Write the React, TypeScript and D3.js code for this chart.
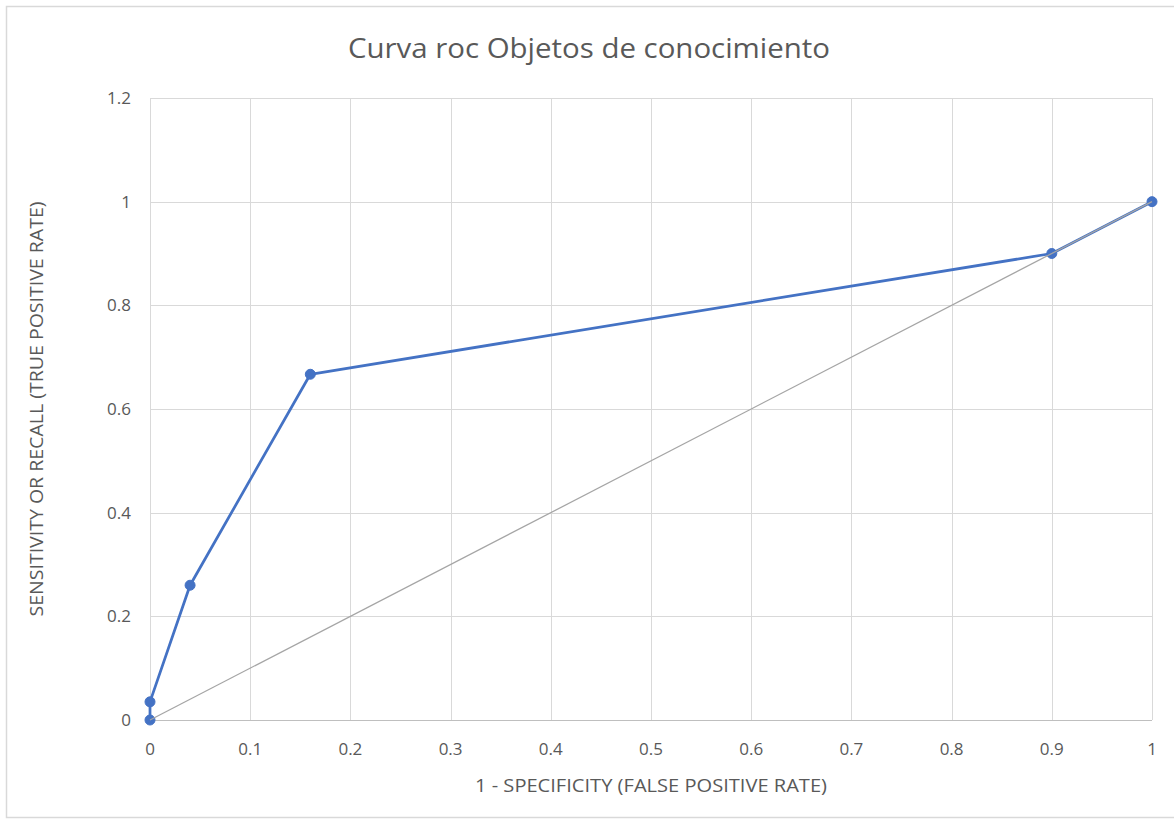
import React from "react";
import * as d3 from "d3";

// ROC curve points: false positive rate vs. true positive rate
const fprValues = [0, 0, 0.04, 0.16, 0.9, 1];
const tprValues = [0, 0.035, 0.26, 0.667, 0.9, 1];
// Reference diagonal (random classifier)
const diagX = [0, 1];
const diagY = [0, 1];

const xTicks = [0, 0.1, 0.2, 0.3, 0.4, 0.5, 0.6, 0.7, 0.8, 0.9, 1];
const yTicks = [0, 0.2, 0.4, 0.6, 0.8, 1, 1.2];

const title = "Curva roc Objetos de conocimiento";
const xTitle = "1 - SPECIFICITY (FALSE POSITIVE RATE)";
const yTitle = "SENSITIVITY OR RECALL (TRUE POSITIVE RATE)";

const W = 1174;
const H = 824;
const plot = { left: 150, right: 1152, top: 98, bottom: 720 };
const FONT = "'Open Sans', 'DejaVu Sans', sans-serif";
const TEXT = "#595959";
const GRID = "#d9d9d9";
const BLUE = "#4472c4";

export default function App() {
  const x = d3.scaleLinear().domain([0, 1]).range([plot.left, plot.right]);
  const y = d3.scaleLinear().domain([0, 1.2]).range([plot.bottom, plot.top]);

  const pts: [number, number][] = fprValues.map((v, i) => [v, tprValues[i]]);
  const diag: [number, number][] = diagX.map((v, i) => [v, diagY[i]]);
  const line = d3
    .line<[number, number]>()
    .x((d) => x(d[0]))
    .y((d) => y(d[1]));

  const fmt = (v: number) => d3.format("~g")(v);

  return (
    <svg
      width={W}
      height={H}
      style={{ position: "absolute", left: 0, top: 0, background: "#fff" }}
      fontFamily={FONT}
    >
      <rect x={6.5} y={6.5} width={W + 10} height={811} fill="#fff" stroke={GRID} strokeWidth={1.5} />

      {/* gridlines */}
      {yTicks.map((t) => (
        <line
          key={"gy" + t}
          x1={plot.left}
          x2={plot.right}
          y1={Math.round(y(t)) + 0.5}
          y2={Math.round(y(t)) + 0.5}
          stroke={t === 0 ? "#bfbfbf" : GRID}
          strokeWidth={1}
        />
      ))}
      {xTicks.map((t) => (
        <line
          key={"gx" + t}
          x1={Math.round(x(t)) + 0.5}
          x2={Math.round(x(t)) + 0.5}
          y1={plot.top}
          y2={plot.bottom}
          stroke={GRID}
          strokeWidth={1}
        />
      ))}

      {/* tick labels */}
      {yTicks.map((t) => (
        <text
          key={"ly" + t}
          x={131}
          y={y(t)}
          dy="0.36em"
          textAnchor="end"
          fontSize={17}
          fill={TEXT}
        >
          {fmt(t)}
        </text>
      ))}
      {xTicks.map((t) => (
        <text
          key={"lx" + t}
          x={x(t)}
          y={749}
          dy="0.36em"
          textAnchor="middle"
          fontSize={17}
          fill={TEXT}
        >
          {fmt(t)}
        </text>
      ))}

      {/* axis titles */}
      <text
        x={651}
        y={786}
        dy="0.36em"
        textAnchor="middle"
        fontSize={18}
        fill={TEXT}
        textLength={352}
        lengthAdjust="spacingAndGlyphs"
      >
        {xTitle}
      </text>
      <text
        transform={`translate(37,${(plot.top + plot.bottom) / 2}) rotate(-90)`}
        textAnchor="middle"
        dy="0.36em"
        fontSize={18}
        fill={TEXT}
        textLength={415}
        lengthAdjust="spacingAndGlyphs"
      >
        {yTitle}
      </text>

      {/* chart title */}
      <text
        x={348}
        y={58}
        fontSize={28}
        fill={TEXT}
        textLength={482}
        lengthAdjust="spacingAndGlyphs"
      >
        {title}
      </text>

      {/* ROC curve */}
      <path d={line(pts) ?? ""} fill="none" stroke={BLUE} strokeWidth={2.75} strokeLinejoin="round" />
      {pts.map((p, i) => (
        <circle key={"m" + i} cx={x(p[0])} cy={y(p[1])} r={5} fill={BLUE} stroke={BLUE} strokeWidth={1} />
      ))}

      {/* diagonal */}
      <path d={line(diag) ?? ""} fill="none" stroke="#a5a5a5" strokeWidth={1.25} />
    </svg>
  );
}
